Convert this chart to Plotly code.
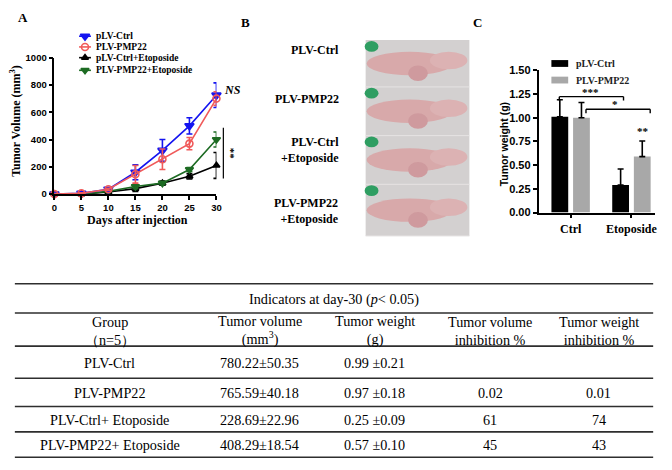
import plotly.graph_objects as go

W, H = 672, 470
SERIF = "Liberation Serif"
SANS = "Liberation Sans"

# ---------------- Panel A data ----------------
days = [0, 5, 10, 15, 20, 25, 30]
vol_ctrl = [0, 5, 35, 160, 320, 500, 725]
vol_ctrl_err = [3, 5, 8, 55, 80, 60, 90]
vol_pmp22 = [0, 5, 35, 145, 255, 370, 700]
vol_pmp22_err = [3, 5, 8, 65, 75, 45, 50]
vol_ctrl_eto = [0, 0, 15, 40, 80, 130, 210]
vol_ctrl_eto_err = [2, 2, 5, 20, 15, 20, 95]
vol_pmp22_eto = [0, 0, 20, 55, 80, 180, 400]
vol_pmp22_eto_err = [2, 2, 5, 15, 10, 15, 55]
series_names = ["pLV-Ctrl", "PLV-PMP22", "pLV-Ctrl+Etoposide", "PLV-PMP22+Etoposide"]

# ---------------- Panel B labels ----------------
photo_labels = ["PLV-Ctrl", "PLV-PMP22", "PLV-Ctrl<br>+Etoposide", "PLV-PMP22<br>+Etoposide"]

# ---------------- Panel C data ----------------
weight_groups = ["Ctrl", "Etoposide"]
wt_ctrl = [1.01, 0.29]
wt_ctrl_err = [0.18, 0.17]
wt_pmp22 = [1.00, 0.59]
wt_pmp22_err = [0.16, 0.165]
wt_series = ["pLV-Ctrl", "PLV-PMP22"]

# ---------------- Table data ----------------
table_title = "Indicators at day-30 (<i>p</i>< 0.05)"
table_headers = ["Group<br>（n=5）", "Tumor volume<br>(mm<sup>3</sup>)", "Tumor weight<br>(g)",
                 "Tumor volume<br>inhibition %", "Tumor weight<br>inhibition %"]
t_groups = ["PLV-Ctrl", "PLV-PMP22", "PLV-Ctrl+ Etoposide", "PLV-PMP22+ Etoposide"]
t_vol_mean = ["780.22", "765.59", "228.69", "408.29"]
t_vol_sd = ["50.35", "40.18", "22.96", "18.54"]
t_wt_mean = ["0.99", "0.97", "0.25", "0.57"]
t_wt_sd = ["0.21", "0.18", "0.09", "0.10"]
t_vol_inh = ["", "0.02", "61", "45"]
t_wt_inh = ["", "0.01", "74", "43"]


def X(px):
    return px / W


def Y(py):
    return 1 - py / H


fig = go.Figure()

# ---- Panel A traces ----
colors = ["#1414f0", "#f05a5a", "#000000", "#1d6b23"]
symbols = ["triangle-down", "circle-open", "triangle-up", "triangle-down"]
sizes = [8, 7, 6, 7]
vals = [vol_ctrl, vol_pmp22, vol_ctrl_eto, vol_pmp22_eto]
errs = [vol_ctrl_err, vol_pmp22_err, vol_ctrl_eto_err, vol_pmp22_eto_err]
order = [2, 3, 0, 1]
for i in order:
    fig.add_trace(go.Scatter(
        x=days, y=vals[i], name=series_names[i], mode="lines+markers",
        line=dict(color=colors[i], width=1.6),
        marker=dict(symbol=symbols[i], size=sizes[i], color=colors[i],
                    line=dict(color=colors[i], width=1.6)),
        error_y=dict(type="data", array=errs[i], symmetric=True, color=colors[i],
                     thickness=1.6, width=3),
        cliponaxis=False, showlegend=False, xaxis="x", yaxis="y"))

# ---- Panel C traces ----
bar_colors = ["#000000", "#a8a8a8"]
bar_w = 0.276
for j, (v, e) in enumerate([(wt_ctrl, wt_ctrl_err), (wt_pmp22, wt_pmp22_err)]):
    fig.add_trace(go.Bar(
        x=weight_groups, y=v, name=wt_series[j], width=bar_w,
        offset=-(bar_w + 0.04) if j == 0 else 0.04,
        marker=dict(color=bar_colors[j], line=dict(width=0)),
        error_y=dict(type="data", array=e, arrayminus=[0] * len(e), symmetric=False,
                     color="#000000", thickness=1.6, width=3),
        showlegend=False, xaxis="x2", yaxis="y2"))

# ---- Legend glyphs (pixel overlay axis) ----
leg_rows = [31, 42, 53, 66]
for k, i in enumerate(range(4)):
    fig.add_trace(go.Scatter(
        x=[77, 89], y=[leg_rows[k], leg_rows[k]], mode="lines",
        line=dict(color=colors[i], width=1.6), showlegend=False, hoverinfo="skip",
        xaxis="x3", yaxis="y3"))
    fig.add_trace(go.Scatter(
        x=[83], y=[leg_rows[k]], mode="markers",
        marker=dict(symbol=symbols[i], size=sizes[i], color=colors[i],
                    line=dict(color=colors[i], width=1.6)),
        showlegend=False, hoverinfo="skip", xaxis="x3", yaxis="y3"))

shapes = []
ann = []

def text(x, y, t, size=12, family=SERIF, bold=False, xanchor="center", yanchor="middle",
         angle=0, align="center", color="#000000", italic=False):
    ann.append(dict(x=x, y=y, xref="x3", yref="y3", text=t, showarrow=False,
                    xanchor=xanchor, yanchor=yanchor, textangle=angle, align=align,
                    font=dict(family=family, size=size, color=color,
                              weight="bold" if bold else "normal",
                              style="italic" if italic else "normal")))

def line(x0, y0, x1, y1, color="#000000", width=1.4):
    shapes.append(dict(type="line", xref="x3", yref="y3", x0=x0, y0=y0, x1=x1, y1=y1,
                       line=dict(color=color, width=width)))

# Legend text A
for k in range(4):
    text(92, leg_rows[k], series_names[k], size=9.5, bold=True, xanchor="left")

# Legend C
for k, c in enumerate(bar_colors):
    yy = [59, 76][k]
    shapes.append(dict(type="rect", xref="x3", yref="y3", x0=555, x1=572, y0=yy - 3.5,
                       y1=yy + 3.5, fillcolor=c, line=dict(width=0)))
    text(578, yy, wt_series[k], size=10, bold=True, xanchor="left", color="#222222")

# Panel letters
text(20, 12, "A", size=13, bold=True)
text(245, 17, "B", size=13, bold=True)
text(480, 17, "C", size=13, bold=True)

# Axis titles A
text(136, 220, "Days after injection", size=12, bold=True)
text(13, 118, "Tumor Volume (mm<sup>3</sup>)", size=12, bold=True, angle=-90)
# NS / ** A
text(232, 86, "NS", size=12, bold=True, italic=True)
line(223, 125, 223, 177, width=1.2)
text(231, 152, "**", size=11, bold=True, angle=90)

# Axis title C
text(507, 142, "Tumor weight (g)", size=10.5, family=SANS, bold=True, angle=-90)
# Brackets C
line(563, 93, 628, 93)
line(563, 93, 563, 97)
line(628, 93, 628, 97)
text(595, 88, "***", size=11, bold=True)
line(590, 106, 655, 106)
line(590, 106, 590, 110)
line(655, 106, 655, 110)
text(619, 101, "*", size=11, bold=True)
text(648, 128, "**", size=11, bold=True)

# ---- Panel B: photo placeholder ----
strips = [(35, 83), (83, 133), (133, 183), (183, 236)]
shapes.append(dict(type="rect", xref="x3", yref="y3", x0=367, x1=472, y0=35, y1=236,
                   fillcolor="#d3d0d0", line=dict(width=0)))
for s0, s1 in strips:
    mid = (s0 + s1) / 2
    shapes.append(dict(type="circle", xref="x3", yref="y3", x0=366, x1=380, y0=s0 + 1,
                       y1=s0 + 12, fillcolor="#2f9e62", line=dict(width=0)))
    shapes.append(dict(type="circle", xref="x3", yref="y3", x0=368, x1=455, y0=mid - 12,
                       y1=mid + 12, fillcolor="#d8a9aa", line=dict(width=0)))
    shapes.append(dict(type="circle", xref="x3", yref="y3", x0=432, x1=470, y0=mid - 12,
                       y1=mid + 6, fillcolor="#dcb2b3", line=dict(width=0)))
    shapes.append(dict(type="circle", xref="x3", yref="y3", x0=410, x1=430, y0=mid + 2,
                       y1=mid + 18, fillcolor="#cf9a9e", line=dict(width=0)))
    line(367, s1, 472, s1, color="#e6e3e3", width=1)
for k, t in enumerate(photo_labels):
    yy = [45, 95, 148, 210][k]
    text(342, yy, t, size=12, bold=True, xanchor="right", align="right")

# ---- Table ----
for yy in [285, 315, 349, 382, 411, 437, 463]:
    line(12, yy, 658, yy, color="#2e2e2e", width=1.6)
TS = 14.2
text(335, 301, table_title, size=TS)
col_x = [108, 260, 376, 493, 603]
for c, h in zip(col_x, table_headers):
    text(c, 333, h, size=TS)
row_y = [366, 397, 425, 451]
for r in range(len(t_groups)):
    cells = [t_groups[r], f"{t_vol_mean[r]}±{t_vol_sd[r]}", f"{t_wt_mean[r]} ±{t_wt_sd[r]}",
             t_vol_inh[r], t_wt_inh[r]]
    for c, v in zip(col_x, cells):
        if v:
            text(c, row_y[r], v, size=TS)

axis_common = dict(showgrid=False, zeroline=False, showline=True, linecolor="#000000",
                   linewidth=1.5, ticks="outside", ticklen=4, tickwidth=1.5, tickcolor="#000000")

fig.update_layout(
    width=W, height=H, margin=dict(l=0, r=0, t=0, b=0),
    paper_bgcolor="white", plot_bgcolor="rgba(0,0,0,0)",
    barmode="overlay", showlegend=False,
    xaxis=dict(domain=[X(52), X(216)], range=[0, 30], tickvals=days,
               tickfont=dict(family=SANS, size=9.5, weight="bold", color="#000"),
               anchor="y", **axis_common),
    yaxis=dict(domain=[Y(193), Y(53)], range=[0, 1000], tickvals=[0, 200, 400, 600, 800, 1000],
               tickfont=dict(family=SANS, size=9.5, weight="bold", color="#000"),
               anchor="x", **axis_common),
    xaxis2=dict(domain=[X(542), X(660)], range=[-0.528, 1.39], type="category",
                tickfont=dict(family=SERIF, size=12, weight="bold", color="#000"),
                anchor="y2", **axis_common),
    yaxis2=dict(domain=[Y(212), Y(66)], range=[0, 1.5],
                tickvals=[0, 0.25, 0.5, 0.75, 1.0, 1.25, 1.5], tickformat=".2f",
                tickfont=dict(family=SANS, size=11, weight="bold", color="#000"),
                anchor="x2", **axis_common),
    xaxis3=dict(domain=[0, 1], range=[0, W], visible=False, fixedrange=True, anchor="y3"),
    yaxis3=dict(domain=[0, 1], range=[H, 0], visible=False, fixedrange=True, anchor="x3"),
    shapes=shapes, annotations=ann,
)

fig.write_html("out.html", config={"displayModeBar": False},
               post_script="document.body.style.margin='0';")
